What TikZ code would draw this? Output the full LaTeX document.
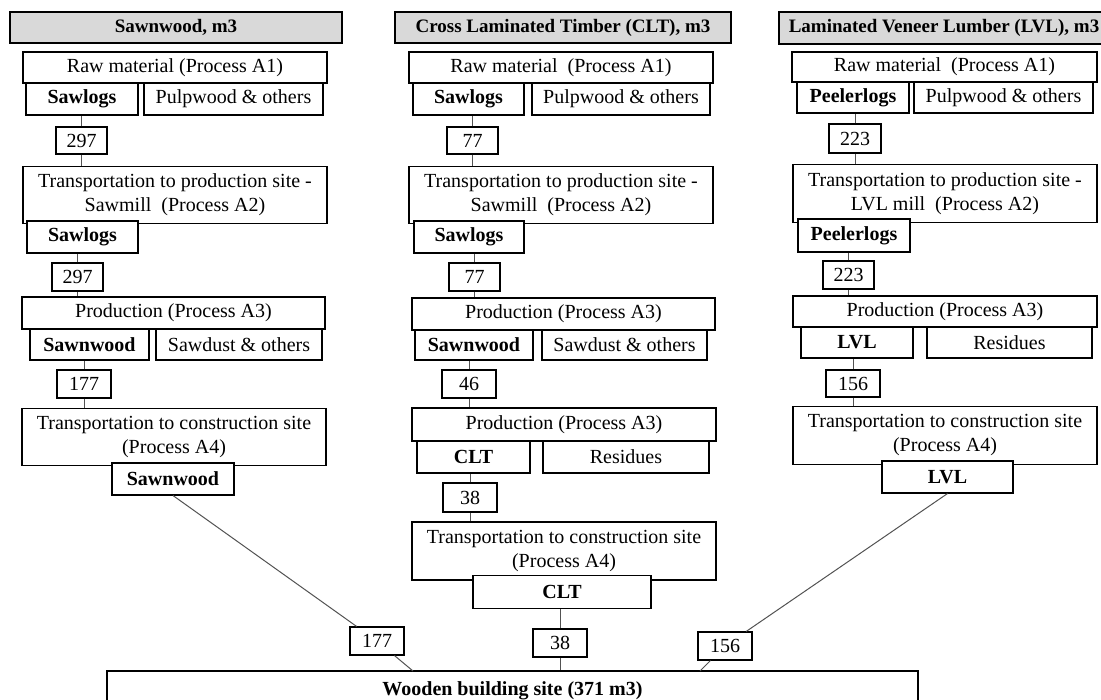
\documentclass[tikz,border=0pt]{standalone}
\usepackage{fontspec}
\setmainfont{Liberation Serif}
\usetikzlibrary{positioning}
\definecolor{headgray}{HTML}{D9D9D9}
\tikzset{
	mainbox/.style={draw, line width=1.8pt, fill=white, inner sep=0pt, align=center, font=\fontsize{20}{24}\selectfont},
	subbox/.style={draw, line width=1.1pt, fill=white, inner sep=0pt, align=center, font=\fontsize{20}{24}\selectfont},
	numbox/.style={subbox},
	headbox/.style={mainbox, fill=headgray, font=\fontsize{19}{23}\selectfont\bfseries},
	link/.style={line width=1pt, color=black!68}
}

\begin{document}
\begin{tikzpicture}[x=1pt, y=-1pt]
			%%%%% START %%%%%
			\useasboundingbox (0, 0) rectangle (1101, 700);
			\clip (0, 0) rectangle (1101, 700);
			
			%%%%% sawnwood %%%%%
			\node[headbox, minimum width=332pt, minimum height=31pt] (head1) at (176, 27.5) {Sawnwood, m3};
			\node[mainbox, minimum width=304pt, minimum height=31pt] (raw1) at (175, 67.5) {Raw material (Process A1)};
			\node[subbox, minimum width=112pt, minimum height=32pt, font=\fontsize{20}{24}\selectfont\bfseries] (logs1) at (82, 99) {Sawlogs};
			\node[subbox, minimum width=179pt, minimum height=32pt] (pulp1) at (233.5, 99) {Pulpwood \& others};
			\node[numbox, minimum width=51pt, minimum height=27pt] (n297a) at (81.5, 140.5) {297};
			\node[mainbox, minimum width=304pt, minimum height=57pt] (trans1) at (175, 195) {Transportation to production site -\\Sawmill \ (Process A2)};
			\node[subbox, minimum width=111pt, minimum height=32pt, font=\fontsize{20}{24}\selectfont\bfseries] (logs1b) at (82.5, 237) {Sawlogs};
			\node[numbox, minimum width=51pt, minimum height=28pt] (n297b) at (77.5, 277) {297};
			\node[mainbox, minimum width=303pt, minimum height=32pt] (prod1) at (173.5, 313) {Production (Process A3)};
			\node[subbox, minimum width=119pt, minimum height=31pt, font=\fontsize{20}{24}\selectfont\bfseries] (sawn1) at (89.5, 344.5) {Sawnwood};
			\node[subbox, minimum width=166pt, minimum height=31pt] (dust1) at (239, 344.5) {Sawdust \& others};
			\node[numbox, minimum width=54pt, minimum height=28pt] (n177a) at (84, 384) {177};
			\node[mainbox, minimum width=304pt, minimum height=57pt] (con1) at (174, 437) {Transportation to construction site\\(Process A4)};
			\node[subbox, minimum width=122pt, minimum height=32pt, font=\fontsize{20}{24}\selectfont\bfseries] (out1) at (173, 479) {Sawnwood};
			
			\draw[link] (n297a.north) -- (n297a.north |- logs1.south);
			\draw[link] (n297a.south) -- (n297a.south |- trans1.north);
			\draw[link] (n297b.north) -- (n297b.north |- logs1b.south);
			\draw[link] (n297b.south) -- (n297b.south |- prod1.north);
			\draw[link] (n177a.north) -- (n177a.north |- sawn1.south);
			\draw[link] (n177a.south) -- (n177a.south |- con1.north);
			
			%%%%% clt %%%%%
			\node[headbox, minimum width=336pt, minimum height=31pt] (head2) at (563, 27.5) {Cross Laminated Timber (CLT), m3};
			\node[mainbox, minimum width=304pt, minimum height=31pt] (raw2) at (561, 67.5) {Raw material \ (Process A1)};
			\node[subbox, minimum width=111pt, minimum height=32pt, font=\fontsize{20}{24}\selectfont\bfseries] (logs2) at (468.5, 99) {Sawlogs};
			\node[subbox, minimum width=178pt, minimum height=32pt] (pulp2) at (621, 99) {Pulpwood \& others};
			\node[numbox, minimum width=51pt, minimum height=27pt] (n77a) at (472.5, 140.5) {77};
			\node[mainbox, minimum width=304pt, minimum height=57pt] (trans2) at (561, 195) {Transportation to production site -\\Sawmill \ (Process A2)};
			\node[subbox, minimum width=110pt, minimum height=32pt, font=\fontsize{20}{24}\selectfont\bfseries] (logs2b) at (469, 237) {Sawlogs};
			\node[numbox, minimum width=51pt, minimum height=28pt] (n77b) at (474.5, 277) {77};
			\node[mainbox, minimum width=303pt, minimum height=32pt] (prod2) at (563.5, 314) {Production (Process A3)};
			\node[subbox, minimum width=118pt, minimum height=30pt, font=\fontsize{20}{24}\selectfont\bfseries] (sawn2) at (474, 345) {Sawnwood};
			\node[subbox, minimum width=165pt, minimum height=30pt] (dust2) at (624.5, 345) {Sawdust \& others};
			\node[numbox, minimum width=54pt, minimum height=28pt] (n46) at (469, 384) {46};
			\node[mainbox, minimum width=304pt, minimum height=33pt] (prod2b) at (564, 424.5) {Production (Process A3)};
			\node[subbox, minimum width=113pt, minimum height=32pt, font=\fontsize{20}{24}\selectfont\bfseries] (clt2) at (473.5, 457) {CLT};
			\node[subbox, minimum width=166pt, minimum height=32pt] (resid2) at (626, 457) {Residues};
			\node[numbox, minimum width=54pt, minimum height=29pt] (n38a) at (470, 497.5) {38};
			\node[mainbox, minimum width=304pt, minimum height=58pt] (con2) at (564, 551) {Transportation to construction site\\(Process A4)};
			\node[subbox, minimum width=178pt, minimum height=33pt, font=\fontsize{20}{24}\selectfont\bfseries] (out2) at (562, 592) {CLT};
			
			\draw[link] (n77a.north) -- (n77a.north |- logs2.south);
			\draw[link] (n77a.south) -- (n77a.south |- trans2.north);
			\draw[link] (n77b.north) -- (n77b.north |- logs2b.south);
			\draw[link] (n77b.south) -- (n77b.south |- prod2.north);
			\draw[link] (n46.north) -- (n46.north |- sawn2.south);
			\draw[link] (n46.south) -- (n46.south |- prod2b.north);
			\draw[link] (n38a.north) -- (n38a.north |- clt2.south);
			\draw[link] (n38a.south) -- (n38a.south |- con2.north);
			
			%%%%% lvl %%%%%
			\node[headbox, minimum width=330pt, minimum height=32pt] (head3) at (944, 28) {Laminated Veneer Lumber (LVL), m3};
			\node[mainbox, minimum width=305pt, minimum height=30pt] (raw3) at (944.5, 67) {Raw material \ (Process A1)};
			\node[subbox, minimum width=112pt, minimum height=31pt, font=\fontsize{20}{24}\selectfont\bfseries] (logs3) at (853, 97.5) {Peelerlogs};
			\node[subbox, minimum width=179pt, minimum height=31pt] (pulp3) at (1003.5, 97.5) {Pulpwood \& others};
			\node[numbox, minimum width=52pt, minimum height=29pt] (n223a) at (855, 138.5) {223};
			\node[mainbox, minimum width=304pt, minimum height=58pt] (trans3) at (945, 193.5) {Transportation to production site -\\LVL mill \ (Process A2)};
			\node[subbox, minimum width=112pt, minimum height=33pt, font=\fontsize{20}{24}\selectfont\bfseries] (logs3b) at (854, 235.5) {Peelerlogs};
			\node[numbox, minimum width=51pt, minimum height=28pt] (n223b) at (848.5, 275) {223};
			\node[mainbox, minimum width=304pt, minimum height=31pt] (prod3) at (945, 311.5) {Production (Process A3)};
			\node[subbox, minimum width=112pt, minimum height=31pt, font=\fontsize{20}{24}\selectfont\bfseries] (lvl3) at (857, 342.5) {LVL};
			\node[subbox, minimum width=165pt, minimum height=31pt] (resid3) at (1009.5, 342.5) {Residues};
			\node[numbox, minimum width=54pt, minimum height=27pt] (n156a) at (853, 383.5) {156};
			\node[mainbox, minimum width=304pt, minimum height=58pt] (con3) at (945, 435.5) {Transportation to construction site\\(Process A4)};
			\node[subbox, minimum width=131pt, minimum height=32pt, font=\fontsize{20}{24}\selectfont\bfseries] (out3) at (947.5, 477) {LVL};
			
			\draw[link] (n223a.north) -- (n223a.north |- logs3.south);
			\draw[link] (n223a.south) -- (n223a.south |- trans3.north);
			\draw[link] (n223b.north) -- (n223b.north |- logs3b.south);
			\draw[link] (n223b.south) -- (n223b.south |- prod3.north);
			\draw[link] (n156a.north) -- (n156a.north |- lvl3.south);
			\draw[link] (n156a.south) -- (n156a.south |- con3.north);
			
			%%%%% building site %%%%%
			\node[mainbox, minimum width=811pt, minimum height=40pt, font=\fontsize{20}{24}\selectfont\bfseries] (site) at (512.5, 691) {Wooden building site (371 m3)};
			\node[numbox, minimum width=54pt, minimum height=28pt] (n177b) at (377, 641) {177};
			\node[numbox, minimum width=54pt, minimum height=28pt] (n38b) at (560, 643) {38};
			\node[numbox, minimum width=54pt, minimum height=28pt] (n156b) at (725, 646) {156};
			\coordinate (j1) at (413, 671);
			\coordinate (j3) at (700, 671);
			
			\draw[link] (out1.south) -- (n177b);
			\draw[link] (n177b) -- (j1);
			\draw[link] (n38b.north) -- (n38b.north |- out2.south);
			\draw[link] (n38b.south) -- (n38b.south |- site.north);
			\draw[link] (out3.south) -- (n156b);
			\draw[link] (n156b) -- (j3);
			
			%%%%% END %%%%%
		\end{tikzpicture}
\end{document}
